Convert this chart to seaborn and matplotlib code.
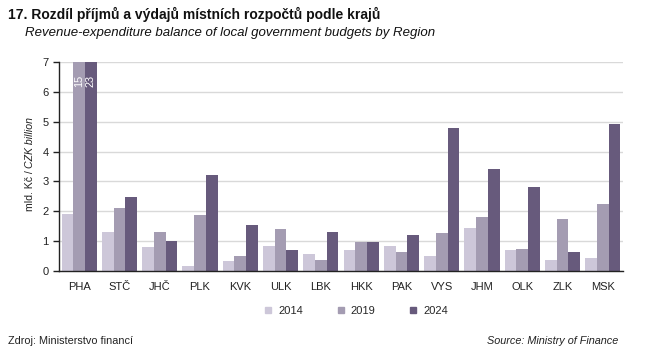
import pandas as pd
import seaborn as sns
import matplotlib.pyplot as plt
from matplotlib.lines import Line2D

regions = ['PHA', 'STČ', 'JHČ', 'PLK', 'KVK', 'ULK', 'LBK', 'HKK', 'PAK', 'VYS', 'JHM', 'OLK', 'ZLK', 'MSK']
years = ['2014', '2019', '2024']
v2014 = [1.91, 1.29, 0.79, 0.18, 0.32, 0.83, 0.58, 0.70, 0.83, 0.50, 1.45, 0.72, 0.38, 0.43]
v2019 = [15.0, 2.11, 1.29, 1.89, 0.51, 1.40, 0.36, 0.98, 0.63, 1.26, 1.80, 0.75, 1.73, 2.23]
v2024 = [23.0, 2.49, 1.00, 3.20, 1.54, 0.69, 1.29, 0.98, 1.22, 4.80, 3.41, 2.83, 0.64, 4.93]
colors = ['#cdc7d9', '#a49cb2', '#675a7c']

df = pd.DataFrame({
    'kraj': regions * 3,
    'rok': [y for y in years for _ in regions],
    'hodnota': v2014 + v2019 + v2024,
})

sns.set_style('white')
plt.rcParams['font.family'] = ['Liberation Sans', 'DejaVu Sans']

fig = plt.figure(figsize=(6.52, 3.56), dpi=100)
ax = fig.add_axes([59 / 652, 1 - 271 / 356, 564 / 652, 209 / 356])

sns.barplot(data=df, x='kraj', y='hodnota', hue='rok', palette=colors,
            width=0.87, linewidth=0, saturation=1, ax=ax, legend=False)

ax.set_ylim(0, 7)
ax.set_xlim(-0.5, len(regions) - 0.5)
ax.set_yticks(range(0, 8))
ax.grid(axis='y', color='#d9d9d9', linewidth=1)
ax.set_axisbelow(True)
for s in ['top', 'right']:
    ax.spines[s].set_visible(False)
for s in ['left', 'bottom']:
    ax.spines[s].set_color('#222222')
    ax.spines[s].set_linewidth(1)

# tick marks between categories
ax.set_xticks([i + 0.5 for i in range(-1, len(regions))], minor=True)
ax.tick_params(axis='x', which='major', length=0, labelsize=8, pad=8, colors='#222222')
ax.tick_params(axis='x', which='minor', length=4, width=1, color='#222222', direction='out')
ax.tick_params(axis='y', length=4, width=1, labelsize=8, colors='#222222', left=True)
ax.set_xlabel('')
ax.set_ylabel('')

# values of clipped PHA bars
for cont, val in zip(ax.containers[1:], [v2019[0], v2024[0]]):
    b = cont.patches[0]
    ax.text(b.get_x() + b.get_width() / 2, 6.58, f'{val:.0f}', rotation=90,
            color='white', fontsize=7.8, ha='center', va='top')

# y label: normal + italic, centred on the axis
lx = 30 / 652
t1 = fig.text(lx, 0, 'mld. Kč / ', rotation=90, fontsize=7.6, ha='center', va='bottom', color='#222222')
t2 = fig.text(lx, 0, 'CZK billion', rotation=90, fontsize=7.6, style='italic',
              ha='center', va='bottom', color='#222222')
fig.canvas.draw()
r = fig.canvas.get_renderer()
h1 = t1.get_window_extent(r).height / fig.bbox.height
h2 = t2.get_window_extent(r).height / fig.bbox.height
yc = 1 - 164 / 356
t1.set_y(yc - (h1 + h2) / 2)
t2.set_y(yc - (h1 + h2) / 2 + h1)

fig.text(8 / 652, 1 - 14 / 356, '17. Rozdíl příjmů a výdajů místních rozpočtů podle krajů',
         fontsize=10, fontweight='bold', va='center', color='#111111')
fig.text(25 / 652, 1 - 33 / 356, 'Revenue-expenditure balance of local government budgets by Region',
         fontsize=9.5, style='italic', va='center', color='#111111')

handles = [Line2D([], [], marker='s', linestyle='', color=c, markersize=4) for c in colors]
fig.legend(handles, years, loc='center', bbox_to_anchor=(356 / 652, 1 - 311 / 356), ncol=3,
           frameon=False, fontsize=8, handlelength=0.8, handletextpad=0.5, columnspacing=3.0)

fig.text(8 / 652, 1 - 341 / 356, 'Zdroj: Ministerstvo financí', fontsize=7.8, va='center', color='#222222')
fig.text(618 / 652, 1 - 341 / 356, 'Source: Ministry of Finance', fontsize=7.8, style='italic',
         ha='right', va='center', color='#222222')

fig.savefig('out.png', dpi=100)
